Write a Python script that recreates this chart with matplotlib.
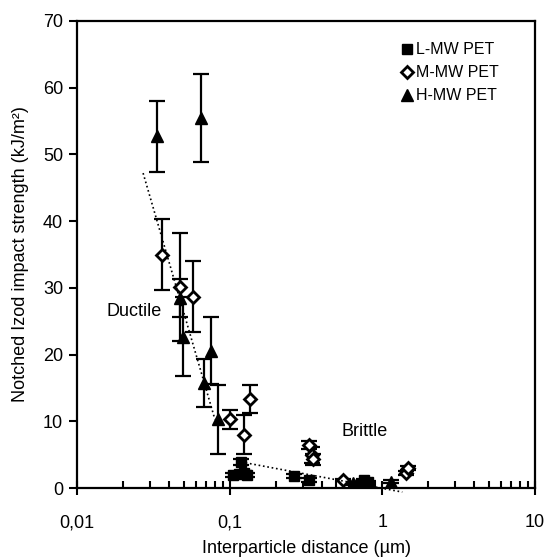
import numpy as np
import matplotlib.pyplot as plt
from matplotlib.ticker import FixedLocator, FixedFormatter, LogLocator, NullFormatter

plt.rcParams['font.family'] = ['Liberation Sans', 'DejaVu Sans']

# L-MW PET
l_x = [0.105, 0.115, 0.125, 0.13, 0.119, 0.263, 0.333, 0.762, 0.80]
l_y = [2.0, 2.1, 2.2, 2.0, 3.9, 1.8, 1.2, 1.2, 0.9]
l_err = [0.3, 0.3, 0.3, 0.3, 0.4, 0.3, 0.3, 0.2, 0.2]

# M-MW PET
m_x = [0.036, 0.047, 0.0576, 0.100, 0.124, 0.135, 0.33, 0.345, 0.35, 0.551, 1.43, 1.47]
m_y = [35.0, 30.1, 28.7, 10.3, 8.0, 13.4, 6.5, 5.0, 4.3, 1.2, 2.3, 3.0]
m_err = [5.3, 8.1, 5.3, 1.4, 2.9, 2.1, 0.6, 1.2, 0.8, 0.2, 0.3, 0.3]

# H-MW PET
h_x = [0.0332, 0.0653, 0.0471, 0.0496, 0.0676, 0.0759, 0.0839, 0.64, 0.67, 1.14]
h_y = [52.7, 55.4, 28.5, 22.7, 15.7, 20.6, 10.3, 0.7, 0.5, 0.95]
h_err = [5.3, 6.6, 2.8, 5.9, 3.6, 5.0, 5.2, 0.2, 0.2, 0.2]

# trend lines
ductile_x = [0.0271, 0.080]
ductile_y = [47.2, 10.3]
brittle_x = [0.119, 1.35]
brittle_y = [3.9, -0.6]

fig = plt.figure(figsize=(5.46, 5.58), dpi=100)
ax = fig.add_axes([0.141, 0.1254, 0.839, 0.837])

ebkw = dict(fmt='none', ecolor='black', elinewidth=1.6, capsize=5.5, capthick=1.6)
for xs, ys, es in [(l_x, l_y, l_err), (m_x, m_y, m_err), (h_x, h_y, h_err)]:
    ax.errorbar(xs, ys, yerr=es, **ebkw)

ax.plot(l_x, l_y, 's', color='black', markersize=7.5, label='L-MW PET')
ax.plot(m_x, m_y, 'D', color='black', markersize=6, markerfacecolor='white',
        markeredgewidth=2, label='M-MW PET')
ax.plot(h_x, h_y, '^', color='black', markersize=8.5, label='H-MW PET')

ax.plot(ductile_x, ductile_y, ':', color='black', lw=1.2)
ax.plot(brittle_x, brittle_y, ':', color='black', lw=1.2, clip_on=False)

ax.text(0.0236, 26.5, 'Ductile', fontsize=13, ha='center', va='center')
ax.text(0.762, 8.4, 'Brittle', fontsize=13, ha='center', va='center')

ax.set_xscale('log')
ax.set_xlim(0.01, 10)
ax.set_ylim(0, 70)
ax.xaxis.set_major_locator(FixedLocator([0.01, 0.1, 1, 10]))
ax.xaxis.set_major_formatter(FixedFormatter(['0,01', '0,1', '1', '10']))
ax.xaxis.set_minor_locator(LogLocator(base=10, subs=np.arange(2, 10)))
ax.xaxis.set_minor_formatter(NullFormatter())
ax.set_yticks(np.arange(0, 71, 10))

ax.tick_params(axis='x', which='major', direction='inout', length=10, width=1.5,
               labelsize=13, pad=14)
ax.tick_params(axis='x', which='minor', direction='in', length=5, width=1.5)
ax.tick_params(axis='y', which='major', direction='out', length=6, width=1.5,
               labelsize=13, pad=4)
for s in ax.spines.values():
    s.set_linewidth(1.6)

ax.set_xlabel('Interparticle distance (µm)', fontsize=13, labelpad=6)
ax.set_ylabel('Notched Izod impact strength (kJ/m²)', fontsize=13, labelpad=10)

ax.legend(loc='upper left', bbox_to_anchor=(0.695, 0.968), frameon=False,
          fontsize=11.5, handlelength=0.6, handletextpad=0.3, labelspacing=0.5,
          borderaxespad=0)

fig.savefig('out.png', dpi=100)
